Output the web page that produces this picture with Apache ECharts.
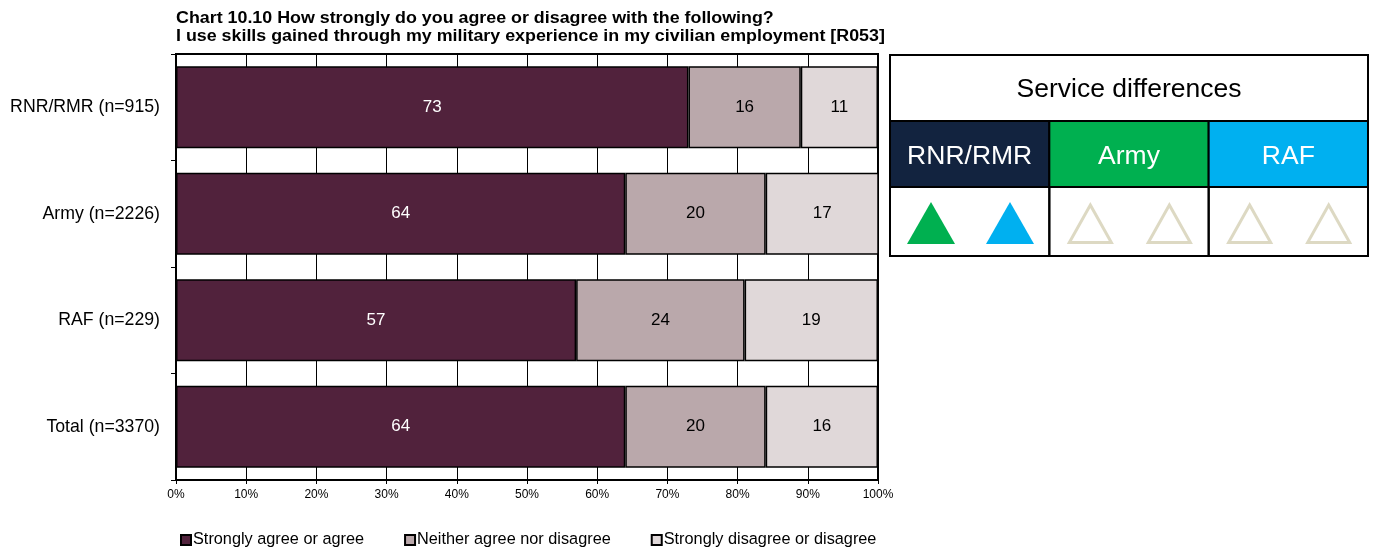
<!DOCTYPE html>
<html>
<head>
<meta charset="utf-8">
<style>
  html, body { margin: 0; padding: 0; background: #fff; }
  #chart { width: 1375px; height: 552px; }
</style>
<script src="https://cdn.jsdelivr.net/npm/echarts@6/dist/echarts.min.js"></script>
</head>
<body>
<div id="chart"></div>
<script>
// Survey groups, top to bottom
const categories = ['RNR/RMR (n=915)', 'Army (n=2226)', 'RAF (n=229)', 'Total (n=3370)'];
// Response shares (%)
const agree = [73, 64, 57, 64];
const neither = [16, 20, 24, 20];
const disagree = [11, 17, 19, 16];
const seriesNames = ['Strongly agree or agree', 'Neither agree nor disagree', 'Strongly disagree or disagree'];
const seriesColors = ['#51223C', '#BAA8AB', '#E0D8D9'];
const labelColors = ['#ffffff', '#000000', '#000000'];

const titleLines = [
  'Chart 10.10 How strongly do you agree or disagree with the following?',
  'I use skills gained through my military experience in my civilian employment [R053]'
];

// Service differences panel
const services = ['RNR/RMR', 'Army', 'RAF'];
const serviceColors = ['#12233F', '#00B050', '#00B0F0'];
// Each service compared with the other two (in service order): 'up' = significantly higher, null = no difference
const comparisons = [['up', 'up'], [null, null], [null, null]];

const FONT = 'Arial, "Liberation Sans", sans-serif';
const chart = echarts.init(document.getElementById('chart'));

// Two-line bold heading above the plot
function buildTitle() {
  return titleLines.map((t, i) => ({
    type: 'text', x: 176, y: 19 + i * 18, scaleX: 1.115,
    style: { text: t, font: 'bold 16px ' + FONT, fill: '#000', align: 'left', verticalAlign: 'middle' },
    z: 5
  }));
}

// Service-differences table as graphic elements
function buildPanel() {
  const x0 = 890, y0 = 55, w = 478, titleH = 66, headH = 66, rowH = 69;
  const colW = w / services.length;
  const els = [];
  els.push({ type: 'rect', shape: { x: x0, y: y0, width: w, height: titleH + headH + rowH },
    style: { fill: '#fff', stroke: '#000', lineWidth: 2 }, z: 1 });
  els.push({ type: 'text', x: x0 + w / 2, y: y0 + titleH / 2 + 2,
    style: { text: 'Service differences', font: '26.5px ' + FONT, fill: '#000', align: 'center', verticalAlign: 'middle' }, z: 3 });
  services.forEach((s, i) => {
    const cx = x0 + i * colW;
    els.push({ type: 'rect', shape: { x: cx, y: y0 + titleH, width: colW, height: headH },
      style: { fill: serviceColors[i], stroke: '#000', lineWidth: 2 }, z: 2 });
    els.push({ type: 'text', x: cx + colW / 2, y: y0 + titleH + headH / 2 + 3,
      style: { text: s, font: '26.5px ' + FONT, fill: '#fff', align: 'center', verticalAlign: 'middle' }, z: 3 });
    els.push({ type: 'rect', shape: { x: cx, y: y0 + titleH + headH, width: colW, height: rowH },
      style: { fill: 'none', stroke: '#000', lineWidth: 2 }, z: 2 });
    const others = services.map((_, k) => k).filter(k => k !== i);
    others.forEach((k, j) => {
      const tx = cx + 41 + j * 79;
      const ty = y0 + titleH + headH + 15;
      const tw = 48, th = 42;
      const pts = [[tx, ty], [tx + tw / 2, ty + th], [tx - tw / 2, ty + th]];
      const mark = comparisons[i][j];
      if (mark === 'up') {
        els.push({ type: 'polygon', shape: { points: pts }, style: { fill: serviceColors[k] }, z: 3 });
      } else {
        const inset = [[tx, ty + 3], [tx + tw / 2 - 3, ty + th - 1.5], [tx - tw / 2 + 3, ty + th - 1.5]];
        els.push({ type: 'polygon', shape: { points: inset }, style: { fill: 'none', stroke: '#DDD9C3', lineWidth: 3 }, z: 3 });
      }
    });
  });
  return els;
}

const valuesList = [agree, neither, disagree];

chart.setOption({
  animation: false,
  backgroundColor: '#fff',
  textStyle: { fontFamily: FONT },
  legend: {
    left: 175, top: 527,
    itemWidth: 10, itemHeight: 10, itemGap: 40, icon: 'rect',
    textStyle: { fontSize: 16.3, color: '#000', fontFamily: FONT, padding: [0, 0, 0, -3] },
    data: seriesNames
  },
  grid: {
    left: 176, right: 497, top: 54, bottom: 72,
    show: true, borderColor: '#000', borderWidth: 2, backgroundColor: '#fff'
  },
  xAxis: {
    type: 'value', min: 0, max: 100, interval: 10,
    axisLine: { show: true, lineStyle: { color: '#000', width: 2 } },
    axisTick: { show: true, length: 4, lineStyle: { color: '#000' } },
    splitLine: { show: true, lineStyle: { color: '#000', width: 1 } },
    axisLabel: { formatter: '{value}%', fontSize: 12, color: '#000', margin: 9, fontFamily: FONT }
  },
  yAxis: {
    type: 'category', inverse: true, data: categories,
    axisLine: { show: true, lineStyle: { color: '#000', width: 2 } },
    axisTick: { show: true, length: 5, lineStyle: { color: '#000' } },
    axisLabel: { fontSize: 17.7, color: '#000', margin: 16, fontFamily: FONT }
  },
  series: valuesList.map((vals, i) => ({
    name: seriesNames[i],
    type: 'bar',
    stack: 'total',
    barWidth: 82,
    data: vals,
    itemStyle: { color: seriesColors[i], borderColor: '#000', borderWidth: 1.5 },
    label: { show: true, position: 'inside', formatter: '{c}', color: labelColors[i], fontSize: 17, fontFamily: FONT }
  })),
  graphic: buildTitle().concat(buildPanel())
});
</script>
</body>
</html>
